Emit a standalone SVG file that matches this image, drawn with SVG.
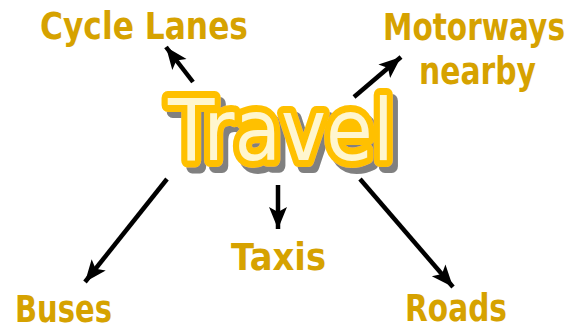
<svg xmlns="http://www.w3.org/2000/svg" width="573" height="330" viewBox="0 0 573 330">
<style>
.lbl{font-family:"DejaVu Sans","Noto Sans",sans-serif;font-weight:bold;font-size:37px;fill:#D6A200}
.arr{stroke:#000;stroke-width:4.5;fill:none;marker-end:url(#ah)}
.ttl{font-family:"DejaVu Sans","Noto Sans",sans-serif;font-size:86px;stroke-linejoin:round;paint-order:stroke}
</style>
<defs>
<marker id="ah" markerUnits="userSpaceOnUse" markerWidth="24" markerHeight="24" viewBox="0 0 24 24" refX="22" refY="12" orient="auto">
<path d="M0,3 L22,12 L0,21 L5,12 Z" fill="#000"/>
</marker>
<filter id="sh" x="-10%" y="-20%" width="130%" height="150%">
<feDropShadow dx="5" dy="6" stdDeviation="0.6" flood-color="#808080" flood-opacity="1"/>
</filter>
</defs>
<g id="connectors">
<line class="arr" x1="193" y1="82" x2="166" y2="47"/>
<line class="arr" x1="354" y1="97" x2="401" y2="57"/>
<line class="arr" x1="167" y1="179" x2="85" y2="282"/>
<line class="arr" x1="278" y1="185" x2="278" y2="229"/>
<line class="arr" x1="360" y1="179" x2="453" y2="287"/>
</g>
<g id="travel">
<text class="ttl" x="168" y="160" textLength="226" lengthAdjust="spacingAndGlyphs" fill="#FFF6CF" stroke="#FFC000" stroke-width="14" filter="url(#sh)">Travel</text>
</g>
<g id="cycle"><text class="lbl" x="40" y="39" textLength="208" lengthAdjust="spacingAndGlyphs">Cycle Lanes</text></g>
<g id="motorways"><text class="lbl" x="383" y="40" textLength="182" lengthAdjust="spacingAndGlyphs">Motorways</text><text class="lbl" x="419" y="84" textLength="117" lengthAdjust="spacingAndGlyphs">nearby</text></g>
<g id="buses"><text class="lbl" x="15" y="322" textLength="97" lengthAdjust="spacingAndGlyphs">Buses</text></g>
<g id="taxis"><text class="lbl" x="231" y="270" textLength="95" lengthAdjust="spacingAndGlyphs">Taxis</text></g>
<g id="roads"><text class="lbl" x="405" y="321" textLength="102" lengthAdjust="spacingAndGlyphs">Roads</text></g>
</svg>
